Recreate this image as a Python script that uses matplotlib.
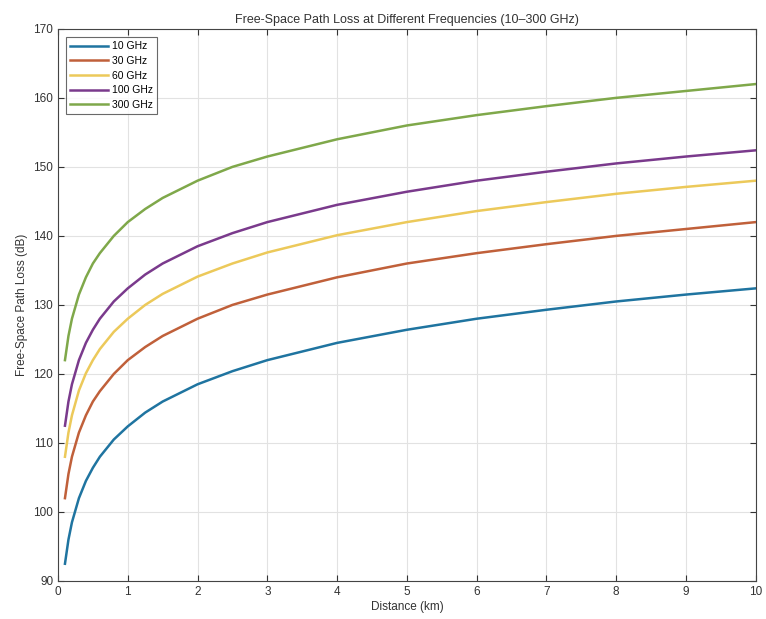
import matplotlib
matplotlib.use('Agg')
import matplotlib.pyplot as plt

plt.rcParams['font.family'] = ['Liberation Sans', 'DejaVu Sans']

distance = [0.1, 0.15, 0.2, 0.3, 0.4, 0.5, 0.6, 0.8, 1, 1.25, 1.5, 2, 2.5, 3, 4, 5, 6, 7, 8, 9, 10]

loss_10 = [92.5, 96.0, 98.5, 102.0, 104.5, 106.4, 108.0, 110.5, 112.4, 114.4, 116.0,
           118.5, 120.4, 122.0, 124.5, 126.4, 128.0, 129.3, 130.5, 131.5, 132.4]
loss_30 = [102.0, 105.5, 108.0, 111.5, 114.0, 116.0, 117.5, 120.0, 122.0, 123.9, 125.5,
           128.0, 130.0, 131.5, 134.0, 136.0, 137.5, 138.8, 140.0, 141.0, 142.0]
loss_60 = [108.0, 111.5, 114.0, 117.6, 120.1, 122.0, 123.6, 126.1, 128.0, 130.0, 131.6,
           134.1, 136.0, 137.6, 140.1, 142.0, 143.6, 144.9, 146.1, 147.1, 148.0]
loss_100 = [112.5, 116.0, 118.5, 122.0, 124.5, 126.4, 128.0, 130.5, 132.4, 134.4, 136.0,
            138.5, 140.4, 142.0, 144.5, 146.4, 148.0, 149.3, 150.5, 151.5, 152.4]
loss_300 = [122.0, 125.5, 128.0, 131.5, 134.0, 136.0, 137.5, 140.0, 142.0, 143.9, 145.5,
            148.0, 150.0, 151.5, 154.0, 156.0, 157.5, 158.8, 160.0, 161.0, 162.0]

labels = ['10 GHz', '30 GHz', '60 GHz', '100 GHz', '300 GHz']
colors = ['#1f74a0', '#c0603a', '#ecc95a', '#7a3a8c', '#7fa84a']

fig = plt.figure(figsize=(7.66, 6.19), dpi=100)
ax = fig.add_axes([0.0757, 0.0614, 0.911, 0.892])

for vals, lab, col in zip([loss_10, loss_30, loss_60, loss_100, loss_300], labels, colors):
    ax.plot(distance, vals, color=col, lw=1.8, label=lab)

ax.set_xlim(0, 10)
ax.set_ylim(90, 170)
ax.set_xticks(range(0, 11))
ax.set_yticks(range(90, 171, 10))
ax.grid(True, color='#e2e2e2', lw=0.8)
ax.tick_params(direction='in', length=4, labelsize=8.5, colors='#333333', top=True, right=True)
for s in ax.spines.values():
    s.set_color('#444444')
    s.set_linewidth(0.8)

ax.set_xlabel('Distance (km)', fontsize=8.5, color='#333333', labelpad=2)
ax.set_ylabel('Free-Space Path Loss (dB)', fontsize=8.5, color='#333333', labelpad=4)
ax.set_title('Free-Space Path Loss at Different Frequencies (10\u2013300 GHz)', fontsize=9, color='#333333', pad=4)

leg = ax.legend(loc='upper left', fontsize=7.5, frameon=True, fancybox=False, edgecolor='#444444',
                handlelength=3.6, borderaxespad=0.8, labelspacing=0.45, handletextpad=0.4)
leg.get_frame().set_linewidth(0.8)

fig.savefig('out.png', dpi=100)
